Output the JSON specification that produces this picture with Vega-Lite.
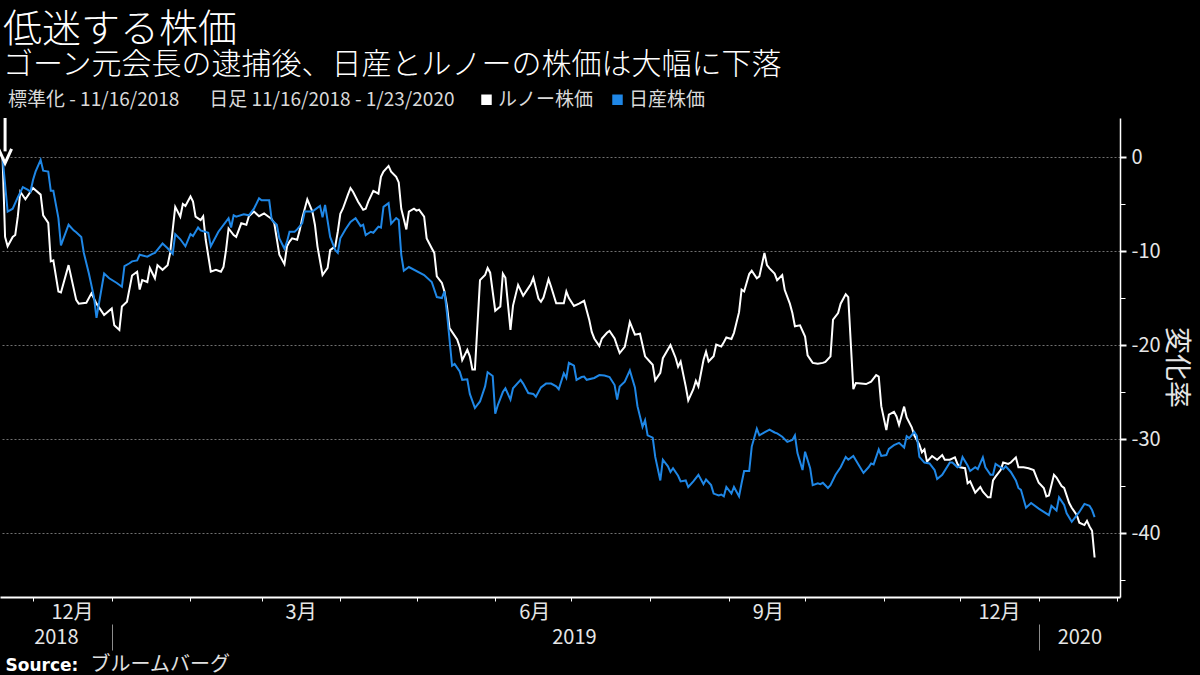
{
"$schema": "https://vega.github.io/schema/vega-lite/v6.json",
"width": 1120, "height": 479,
"autosize": {"type": "none"},
"padding": {"left": 0, "top": 118, "right": 80, "bottom": 78},
"background": "#000000",
"title": {
  "text": "低迷する株価",
  "subtitle": "ゴーン元会長の逮捕後、日産とルノーの株価は大幅に下落",
  "anchor": "start", "frame": "group", "dx": 3, "offset": 10,
  "font": "Noto Sans CJK JP", "fontSize": 39, "fontWeight": 300, "color": "#ffffff",
  "subtitleFont": "Noto Sans CJK JP", "subtitleFontSize": 30, "subtitleFontWeight": 300, "subtitleColor": "#ffffff", "subtitlePadding": 0
},
"datasets": {
"prices": [
{"d":"2018-11-19","s":"ルノー株価","v":0},{"d":"2018-11-20","s":"ルノー株価","v":-8.5},{"d":"2018-11-21","s":"ルノー株価","v":-9.5},{"d":"2018-11-23","s":"ルノー株価","v":-8.5},{"d":"2018-11-24","s":"ルノー株価","v":-8.3},{"d":"2018-11-25","s":"ルノー株価","v":-6.35},{"d":"2018-11-26","s":"ルノー株価","v":-3.7},{"d":"2018-11-28","s":"ルノー株価","v":-4.5},{"d":"2018-12-01","s":"ルノー株価","v":-3.3},{"d":"2018-12-04","s":"ルノー株価","v":-4.0},{"d":"2018-12-05","s":"ルノー株価","v":-6.2},{"d":"2018-12-07","s":"ルノー株価","v":-7.0},{"d":"2018-12-08","s":"ルノー株価","v":-11.1},{"d":"2018-12-09","s":"ルノー株価","v":-11.0},{"d":"2018-12-11","s":"ルノー株価","v":-14.3},{"d":"2018-12-12","s":"ルノー株価","v":-14.4},{"d":"2018-12-15","s":"ルノー株価","v":-11.5},{"d":"2018-12-18","s":"ルノー株価","v":-15.2},{"d":"2018-12-19","s":"ルノー株価","v":-15.6},{"d":"2018-12-22","s":"ルノー株価","v":-15.5},{"d":"2018-12-24","s":"ルノー株価","v":-14.5},{"d":"2018-12-26","s":"ルノー株価","v":-15.6},{"d":"2018-12-29","s":"ルノー株価","v":-16.8},
{"d":"2019-01-01","s":"ルノー株価","v":-16.1},{"d":"2019-01-02","s":"ルノー株価","v":-17.9},{"d":"2019-01-04","s":"ルノー株価","v":-18.4},{"d":"2019-01-05","s":"ルノー株価","v":-15.9},{"d":"2019-01-07","s":"ルノー株価","v":-15.4},{"d":"2019-01-09","s":"ルノー株価","v":-12.6},{"d":"2019-01-11","s":"ルノー株価","v":-12.2},{"d":"2019-01-12","s":"ルノー株価","v":-14.1},{"d":"2019-01-13","s":"ルノー株価","v":-13.1},{"d":"2019-01-15","s":"ルノー株価","v":-13.3},{"d":"2019-01-16","s":"ルノー株価","v":-11.8},{"d":"2019-01-18","s":"ルノー株価","v":-12.9},{"d":"2019-01-19","s":"ルノー株価","v":-11.5},{"d":"2019-01-21","s":"ルノー株価","v":-12.0},{"d":"2019-01-23","s":"ルノー株価","v":-11.5},{"d":"2019-01-24","s":"ルノー株価","v":-10.2},{"d":"2019-01-26","s":"ルノー株価","v":-5.3},{"d":"2019-01-28","s":"ルノー株価","v":-6.35},{"d":"2019-01-29","s":"ルノー株価","v":-5.0},{"d":"2019-01-30","s":"ルノー株価","v":-5.2},
{"d":"2019-02-01","s":"ルノー株価","v":-4.2},{"d":"2019-02-02","s":"ルノー株価","v":-4.75},{"d":"2019-02-03","s":"ルノー株価","v":-6.35},{"d":"2019-02-05","s":"ルノー株価","v":-6.7},{"d":"2019-02-06","s":"ルノー株価","v":-6.3},{"d":"2019-02-07","s":"ルノー株価","v":-8.8},{"d":"2019-02-09","s":"ルノー株価","v":-12.2},{"d":"2019-02-11","s":"ルノー株価","v":-12.0},{"d":"2019-02-13","s":"ルノー株価","v":-12.2},{"d":"2019-02-14","s":"ルノー株価","v":-11.7},{"d":"2019-02-15","s":"ルノー株価","v":-9.9},{"d":"2019-02-16","s":"ルノー株価","v":-7.6},{"d":"2019-02-18","s":"ルノー株価","v":-8.3},{"d":"2019-02-19","s":"ルノー株価","v":-8.5},{"d":"2019-02-21","s":"ルノー株価","v":-7.05},{"d":"2019-02-23","s":"ルノー株価","v":-7.2},{"d":"2019-02-24","s":"ルノー株価","v":-6.3},{"d":"2019-02-26","s":"ルノー株価","v":-5.8},{"d":"2019-02-28","s":"ルノー株価","v":-6.3},
{"d":"2019-03-02","s":"ルノー株価","v":-6.0},{"d":"2019-03-05","s":"ルノー株価","v":-6.6},{"d":"2019-03-06","s":"ルノー株価","v":-7.05},{"d":"2019-03-08","s":"ルノー株価","v":-10.4},{"d":"2019-03-10","s":"ルノー株価","v":-11.4},{"d":"2019-03-11","s":"ルノー株価","v":-9.5},{"d":"2019-03-12","s":"ルノー株価","v":-9.0},{"d":"2019-03-13","s":"ルノー株価","v":-8.65},{"d":"2019-03-15","s":"ルノー株価","v":-8.8},{"d":"2019-03-16","s":"ルノー株価","v":-7.8},{"d":"2019-03-17","s":"ルノー株価","v":-6.5},{"d":"2019-03-19","s":"ルノー株価","v":-4.5},{"d":"2019-03-21","s":"ルノー株価","v":-5.8},{"d":"2019-03-22","s":"ルノー株価","v":-7.2},{"d":"2019-03-23","s":"ルノー株価","v":-9.5},{"d":"2019-03-25","s":"ルノー株価","v":-12.55},{"d":"2019-03-27","s":"ルノー株価","v":-11.8},{"d":"2019-03-28","s":"ルノー株価","v":-9.9},{"d":"2019-03-30","s":"ルノー株価","v":-9.5},{"d":"2019-03-31","s":"ルノー株価","v":-7.95},
{"d":"2019-04-01","s":"ルノー株価","v":-6.05},{"d":"2019-04-02","s":"ルノー株価","v":-5.5},{"d":"2019-04-04","s":"ルノー株価","v":-4.0},{"d":"2019-04-05","s":"ルノー株価","v":-3.3},{"d":"2019-04-06","s":"ルノー株価","v":-3.7},{"d":"2019-04-08","s":"ルノー株価","v":-4.75},{"d":"2019-04-10","s":"ルノー株価","v":-5.6},{"d":"2019-04-11","s":"ルノー株価","v":-5.5},{"d":"2019-04-12","s":"ルノー株価","v":-4.75},{"d":"2019-04-14","s":"ルノー株価","v":-3.6},{"d":"2019-04-16","s":"ルノー株価","v":-3.9},{"d":"2019-04-17","s":"ルノー株価","v":-2.1},{"d":"2019-04-18","s":"ルノー株価","v":-1.55},{"d":"2019-04-20","s":"ルノー株価","v":-0.95},{"d":"2019-04-21","s":"ルノー株価","v":-1.55},{"d":"2019-04-23","s":"ルノー株価","v":-2.1},{"d":"2019-04-24","s":"ルノー株価","v":-2.7},{"d":"2019-04-25","s":"ルノー株価","v":-5.5},{"d":"2019-04-26","s":"ルノー株価","v":-6.6},{"d":"2019-04-27","s":"ルノー株価","v":-7.7},{"d":"2019-04-28","s":"ルノー株価","v":-5.8},{"d":"2019-04-30","s":"ルノー株価","v":-5.5},
{"d":"2019-05-01","s":"ルノー株価","v":-5.7},{"d":"2019-05-02","s":"ルノー株価","v":-5.6},{"d":"2019-05-04","s":"ルノー株価","v":-6.35},{"d":"2019-05-05","s":"ルノー株価","v":-8.65},{"d":"2019-05-07","s":"ルノー株価","v":-9.7},{"d":"2019-05-08","s":"ルノー株価","v":-10.2},{"d":"2019-05-09","s":"ルノー株価","v":-12.7},{"d":"2019-05-11","s":"ルノー株価","v":-13.4},{"d":"2019-05-12","s":"ルノー株価","v":-14.3},{"d":"2019-05-13","s":"ルノー株価","v":-15.9},{"d":"2019-05-14","s":"ルノー株価","v":-18.2},{"d":"2019-05-17","s":"ルノー株価","v":-19.4},{"d":"2019-05-18","s":"ルノー株価","v":-20.2},{"d":"2019-05-19","s":"ルノー株価","v":-21.6},{"d":"2019-05-21","s":"ルノー株価","v":-20.5},{"d":"2019-05-22","s":"ルノー株価","v":-21.2},{"d":"2019-05-23","s":"ルノー株価","v":-22.6},{"d":"2019-05-24","s":"ルノー株価","v":-22.6},{"d":"2019-05-26","s":"ルノー株価","v":-13.1},{"d":"2019-05-28","s":"ルノー株価","v":-12.55},{"d":"2019-05-29","s":"ルノー株価","v":-11.8},{"d":"2019-05-30","s":"ルノー株価","v":-12.3},
{"d":"2019-06-01","s":"ルノー株価","v":-16.35},{"d":"2019-06-03","s":"ルノー株価","v":-15.9},{"d":"2019-06-04","s":"ルノー株価","v":-12.4},{"d":"2019-06-05","s":"ルノー株価","v":-12.85},{"d":"2019-06-07","s":"ルノー株価","v":-18.4},{"d":"2019-06-08","s":"ルノー株価","v":-15.8},{"d":"2019-06-10","s":"ルノー株価","v":-13.6},{"d":"2019-06-12","s":"ルノー株価","v":-14.75},{"d":"2019-06-14","s":"ルノー株価","v":-13.95},{"d":"2019-06-15","s":"ルノー株価","v":-13.55},{"d":"2019-06-16","s":"ルノー株価","v":-12.85},{"d":"2019-06-18","s":"ルノー株価","v":-15.05},{"d":"2019-06-19","s":"ルノー株価","v":-15.4},{"d":"2019-06-20","s":"ルノー株価","v":-14.95},{"d":"2019-06-22","s":"ルノー株価","v":-13.0},{"d":"2019-06-23","s":"ルノー株価","v":-13.8},{"d":"2019-06-25","s":"ルノー株価","v":-15.55},{"d":"2019-06-28","s":"ルノー株価","v":-15.55},{"d":"2019-06-29","s":"ルノー株価","v":-14.3},{"d":"2019-06-30","s":"ルノー株価","v":-15.0},
{"d":"2019-07-02","s":"ルノー株価","v":-15.85},{"d":"2019-07-04","s":"ルノー株価","v":-15.6},{"d":"2019-07-06","s":"ルノー株価","v":-15.3},{"d":"2019-07-08","s":"ルノー株価","v":-17.3},{"d":"2019-07-09","s":"ルノー株価","v":-18.6},{"d":"2019-07-10","s":"ルノー株価","v":-19.3},{"d":"2019-07-12","s":"ルノー株価","v":-20.1},{"d":"2019-07-13","s":"ルノー株価","v":-19.3},{"d":"2019-07-15","s":"ルノー株価","v":-18.7},{"d":"2019-07-16","s":"ルノー株価","v":-18.5},{"d":"2019-07-18","s":"ルノー株価","v":-19.3},{"d":"2019-07-19","s":"ルノー株価","v":-20.1},{"d":"2019-07-20","s":"ルノー株価","v":-20.85},{"d":"2019-07-22","s":"ルノー株価","v":-20.2},{"d":"2019-07-23","s":"ルノー株価","v":-18.9},{"d":"2019-07-24","s":"ルノー株価","v":-17.55},{"d":"2019-07-26","s":"ルノー株価","v":-18.9},{"d":"2019-07-28","s":"ルノー株価","v":-18.8},{"d":"2019-07-29","s":"ルノー株価","v":-20.0},{"d":"2019-07-30","s":"ルノー株価","v":-21.2},
{"d":"2019-08-01","s":"ルノー株価","v":-21.8},{"d":"2019-08-02","s":"ルノー株価","v":-22.1},{"d":"2019-08-03","s":"ルノー株価","v":-23.75},{"d":"2019-08-05","s":"ルノー株価","v":-22.95},{"d":"2019-08-06","s":"ルノー株価","v":-21.4},{"d":"2019-08-09","s":"ルノー株価","v":-20.0},{"d":"2019-08-11","s":"ルノー株価","v":-21.35},{"d":"2019-08-12","s":"ルノー株価","v":-22.3},{"d":"2019-08-13","s":"ルノー株価","v":-21.75},{"d":"2019-08-15","s":"ルノー株価","v":-24.4},{"d":"2019-08-16","s":"ルノー株価","v":-25.9},{"d":"2019-08-18","s":"ルノー株価","v":-24.7},{"d":"2019-08-19","s":"ルノー株価","v":-23.8},{"d":"2019-08-20","s":"ルノー株価","v":-24.4},{"d":"2019-08-22","s":"ルノー株価","v":-21.6},{"d":"2019-08-23","s":"ルノー株価","v":-20.7},{"d":"2019-08-24","s":"ルノー株価","v":-21.75},{"d":"2019-08-26","s":"ルノー株価","v":-21.2},{"d":"2019-08-27","s":"ルノー株価","v":-19.95},{"d":"2019-08-29","s":"ルノー株価","v":-20.15},{"d":"2019-08-30","s":"ルノー株価","v":-19.7},{"d":"2019-08-31","s":"ルノー株価","v":-19.2},
{"d":"2019-09-02","s":"ルノー株価","v":-19.35},{"d":"2019-09-03","s":"ルノー株価","v":-18.7},{"d":"2019-09-05","s":"ルノー株価","v":-16.5},{"d":"2019-09-06","s":"ルノー株価","v":-14.1},{"d":"2019-09-07","s":"ルノー株価","v":-14.3},{"d":"2019-09-09","s":"ルノー株価","v":-12.45},{"d":"2019-09-10","s":"ルノー株価","v":-12.1},{"d":"2019-09-12","s":"ルノー株価","v":-12.9},{"d":"2019-09-13","s":"ルノー株価","v":-12.7},{"d":"2019-09-15","s":"ルノー株価","v":-10.2},{"d":"2019-09-16","s":"ルノー株価","v":-11.5},{"d":"2019-09-17","s":"ルノー株価","v":-11.85},{"d":"2019-09-19","s":"ルノー株価","v":-12.4},{"d":"2019-09-20","s":"ルノー株価","v":-13.1},{"d":"2019-09-22","s":"ルノー株価","v":-12.55},{"d":"2019-09-23","s":"ルノー株価","v":-14.15},{"d":"2019-09-25","s":"ルノー株価","v":-15.6},{"d":"2019-09-26","s":"ルノー株価","v":-16.6},{"d":"2019-09-27","s":"ルノー株価","v":-18.0},{"d":"2019-09-29","s":"ルノー株価","v":-17.9},
{"d":"2019-10-01","s":"ルノー株価","v":-19.1},{"d":"2019-10-02","s":"ルノー株価","v":-21.1},{"d":"2019-10-04","s":"ルノー株価","v":-21.9},{"d":"2019-10-06","s":"ルノー株価","v":-22.0},{"d":"2019-10-08","s":"ルノー株価","v":-21.9},{"d":"2019-10-09","s":"ルノー株価","v":-21.8},{"d":"2019-10-11","s":"ルノー株価","v":-21.2},{"d":"2019-10-12","s":"ルノー株価","v":-17.3},{"d":"2019-10-14","s":"ルノー株価","v":-16.6},{"d":"2019-10-15","s":"ルノー株価","v":-15.6},{"d":"2019-10-17","s":"ルノー株価","v":-14.6},{"d":"2019-10-18","s":"ルノー株価","v":-14.9},{"d":"2019-10-20","s":"ルノー株価","v":-24.7},{"d":"2019-10-21","s":"ルノー株価","v":-24.05},{"d":"2019-10-23","s":"ルノー株価","v":-24.1},{"d":"2019-10-25","s":"ルノー株価","v":-24.15},{"d":"2019-10-27","s":"ルノー株価","v":-23.9},{"d":"2019-10-29","s":"ルノー株価","v":-23.2},{"d":"2019-10-30","s":"ルノー株価","v":-23.35},{"d":"2019-10-31","s":"ルノー株価","v":-26.5},
{"d":"2019-11-02","s":"ルノー株価","v":-29.05},{"d":"2019-11-03","s":"ルノー株価","v":-27.4},{"d":"2019-11-05","s":"ルノー株価","v":-27.1},{"d":"2019-11-06","s":"ルノー株価","v":-27.6},{"d":"2019-11-07","s":"ルノー株価","v":-28.5},{"d":"2019-11-09","s":"ルノー株価","v":-26.55},{"d":"2019-11-10","s":"ルノー株価","v":-27.7},{"d":"2019-11-12","s":"ルノー株価","v":-28.75},{"d":"2019-11-13","s":"ルノー株価","v":-29.6},{"d":"2019-11-15","s":"ルノー株価","v":-30.6},{"d":"2019-11-16","s":"ルノー株価","v":-31.4},{"d":"2019-11-17","s":"ルノー株価","v":-31.1},{"d":"2019-11-18","s":"ルノー株価","v":-32.4},{"d":"2019-11-20","s":"ルノー株価","v":-31.8},{"d":"2019-11-22","s":"ルノー株価","v":-32.2},{"d":"2019-11-24","s":"ルノー株価","v":-31.7},{"d":"2019-11-25","s":"ルノー株価","v":-32.2},{"d":"2019-11-27","s":"ルノー株価","v":-32.2},{"d":"2019-11-29","s":"ルノー株価","v":-31.95},{"d":"2019-11-30","s":"ルノー株価","v":-32.65},
{"d":"2019-12-01","s":"ルノー株価","v":-33.0},{"d":"2019-12-03","s":"ルノー株価","v":-33.1},{"d":"2019-12-04","s":"ルノー株価","v":-34.7},{"d":"2019-12-05","s":"ルノー株価","v":-34.5},{"d":"2019-12-07","s":"ルノー株価","v":-35.7},{"d":"2019-12-09","s":"ルノー株価","v":-35.1},{"d":"2019-12-10","s":"ルノー株価","v":-35.6},{"d":"2019-12-12","s":"ルノー株価","v":-36.2},{"d":"2019-12-13","s":"ルノー株価","v":-36.2},{"d":"2019-12-14","s":"ルノー株価","v":-34.4},{"d":"2019-12-15","s":"ルノー株価","v":-34.0},{"d":"2019-12-17","s":"ルノー株価","v":-33.3},{"d":"2019-12-18","s":"ルノー株価","v":-32.5},{"d":"2019-12-20","s":"ルノー株価","v":-32.65},{"d":"2019-12-21","s":"ルノー株価","v":-32.5},{"d":"2019-12-23","s":"ルノー株価","v":-31.95},{"d":"2019-12-24","s":"ルノー株価","v":-33.0},{"d":"2019-12-26","s":"ルノー株価","v":-33.0},{"d":"2019-12-28","s":"ルノー株価","v":-33.1},{"d":"2019-12-30","s":"ルノー株価","v":-33.3},{"d":"2019-12-31","s":"ルノー株価","v":-34.0},
{"d":"2020-01-01","s":"ルノー株価","v":-34.65},{"d":"2020-01-03","s":"ルノー株価","v":-35.2},{"d":"2020-01-04","s":"ルノー株価","v":-36.1},{"d":"2020-01-05","s":"ルノー株価","v":-36.0},{"d":"2020-01-07","s":"ルノー株価","v":-33.8},{"d":"2020-01-08","s":"ルノー株価","v":-34.1},{"d":"2020-01-10","s":"ルノー株価","v":-35.0},{"d":"2020-01-11","s":"ルノー株価","v":-35.2},{"d":"2020-01-13","s":"ルノー株価","v":-36.8},{"d":"2020-01-14","s":"ルノー株価","v":-37.3},{"d":"2020-01-16","s":"ルノー株価","v":-38.1},{"d":"2020-01-17","s":"ルノー株価","v":-38.9},{"d":"2020-01-19","s":"ルノー株価","v":-39.15},{"d":"2020-01-20","s":"ルノー株価","v":-38.7},{"d":"2020-01-21","s":"ルノー株価","v":-39.3},{"d":"2020-01-22","s":"ルノー株価","v":-39.75},{"d":"2020-01-23","s":"ルノー株価","v":-42.6},
{"d":"2018-11-19","s":"日産株価","v":0},{"d":"2018-11-21","s":"日産株価","v":-5.8},{"d":"2018-11-23","s":"日産株価","v":-5.5},{"d":"2018-11-25","s":"日産株価","v":-4.3},{"d":"2018-11-27","s":"日産株価","v":-3.2},{"d":"2018-11-29","s":"日産株価","v":-3.5},{"d":"2018-11-30","s":"日産株価","v":-3.7},{"d":"2018-12-01","s":"日産株価","v":-2.45},{"d":"2018-12-02","s":"日産株価","v":-1.55},{"d":"2018-12-04","s":"日産株価","v":-0.3},{"d":"2018-12-05","s":"日産株価","v":-1.45},{"d":"2018-12-07","s":"日産株価","v":-1.55},{"d":"2018-12-08","s":"日産株価","v":-3.6},{"d":"2018-12-09","s":"日産株価","v":-3.6},{"d":"2018-12-11","s":"日産株価","v":-6.5},{"d":"2018-12-12","s":"日産株価","v":-9.4},{"d":"2018-12-15","s":"日産株価","v":-7.2},{"d":"2018-12-17","s":"日産株価","v":-7.8},{"d":"2018-12-18","s":"日産株価","v":-8.0},{"d":"2018-12-20","s":"日産株価","v":-8.5},{"d":"2018-12-21","s":"日産株価","v":-10.2},{"d":"2018-12-23","s":"日産株価","v":-12.4},{"d":"2018-12-25","s":"日産株価","v":-14.9},{"d":"2018-12-26","s":"日産株価","v":-17.1},{"d":"2018-12-29","s":"日産株価","v":-12.4},{"d":"2018-12-31","s":"日産株価","v":-12.9},
{"d":"2019-01-03","s":"日産株価","v":-13.4},{"d":"2019-01-05","s":"日産株価","v":-13.8},{"d":"2019-01-06","s":"日産株価","v":-11.6},{"d":"2019-01-08","s":"日産株価","v":-11.3},{"d":"2019-01-09","s":"日産株価","v":-11.1},{"d":"2019-01-11","s":"日産株価","v":-11.0},{"d":"2019-01-12","s":"日産株価","v":-10.4},{"d":"2019-01-15","s":"日産株価","v":-10.6},{"d":"2019-01-17","s":"日産株価","v":-10.3},{"d":"2019-01-18","s":"日産株価","v":-10.2},{"d":"2019-01-21","s":"日産株価","v":-9.2},{"d":"2019-01-23","s":"日産株価","v":-9.7},{"d":"2019-01-25","s":"日産株価","v":-10.3},{"d":"2019-01-26","s":"日産株価","v":-8.2},{"d":"2019-01-28","s":"日産株価","v":-8.75},{"d":"2019-01-30","s":"日産株価","v":-9.5},
{"d":"2019-02-01","s":"日産株価","v":-8.2},{"d":"2019-02-02","s":"日産株価","v":-8.4},{"d":"2019-02-04","s":"日産株価","v":-7.5},{"d":"2019-02-05","s":"日産株価","v":-7.8},{"d":"2019-02-08","s":"日産株価","v":-8.05},{"d":"2019-02-09","s":"日産株価","v":-9.5},{"d":"2019-02-12","s":"日産株価","v":-7.95},{"d":"2019-02-16","s":"日産株価","v":-6.5},{"d":"2019-02-17","s":"日産株価","v":-7.5},{"d":"2019-02-18","s":"日産株価","v":-6.2},{"d":"2019-02-19","s":"日産株価","v":-6.35},{"d":"2019-02-22","s":"日産株価","v":-6.1},{"d":"2019-02-24","s":"日産株価","v":-6.2},{"d":"2019-02-26","s":"日産株価","v":-5.5},{"d":"2019-02-28","s":"日産株価","v":-4.4},
{"d":"2019-03-01","s":"日産株価","v":-4.6},{"d":"2019-03-04","s":"日産株価","v":-4.6},{"d":"2019-03-05","s":"日産株価","v":-6.7},{"d":"2019-03-07","s":"日産株価","v":-7.2},{"d":"2019-03-08","s":"日産株価","v":-8.65},{"d":"2019-03-10","s":"日産株価","v":-9.75},{"d":"2019-03-11","s":"日産株価","v":-9.0},{"d":"2019-03-12","s":"日産株価","v":-7.95},{"d":"2019-03-14","s":"日産株価","v":-7.95},{"d":"2019-03-15","s":"日産株価","v":-7.7},{"d":"2019-03-17","s":"日産株価","v":-7.05},{"d":"2019-03-18","s":"日産株価","v":-5.8},{"d":"2019-03-21","s":"日産株価","v":-5.8},{"d":"2019-03-22","s":"日産株価","v":-5.6},{"d":"2019-03-24","s":"日産株価","v":-5.2},{"d":"2019-03-25","s":"日産株価","v":-6.4},{"d":"2019-03-26","s":"日産株価","v":-5.1},{"d":"2019-03-28","s":"日産株価","v":-8.5},{"d":"2019-03-30","s":"日産株価","v":-9.9},{"d":"2019-03-31","s":"日産株価","v":-10.2},
{"d":"2019-04-01","s":"日産株価","v":-8.65},{"d":"2019-04-03","s":"日産株価","v":-7.7},{"d":"2019-04-05","s":"日産株価","v":-6.9},{"d":"2019-04-07","s":"日産株価","v":-6.5},{"d":"2019-04-09","s":"日産株価","v":-7.35},{"d":"2019-04-10","s":"日産株価","v":-7.2},{"d":"2019-04-11","s":"日産株価","v":-8.3},{"d":"2019-04-13","s":"日産株価","v":-7.95},{"d":"2019-04-14","s":"日産株価","v":-8.05},{"d":"2019-04-16","s":"日産株価","v":-7.4},{"d":"2019-04-17","s":"日産株価","v":-7.5},{"d":"2019-04-18","s":"日産株価","v":-5.3},{"d":"2019-04-20","s":"日産株価","v":-4.9},{"d":"2019-04-21","s":"日産株価","v":-7.1},{"d":"2019-04-23","s":"日産株価","v":-6.5},{"d":"2019-04-24","s":"日産株価","v":-6.7},{"d":"2019-04-25","s":"日産株価","v":-10.4},{"d":"2019-04-26","s":"日産株価","v":-12.1},{"d":"2019-04-28","s":"日産株価","v":-11.7},
{"d":"2019-05-04","s":"日産株価","v":-12.55},{"d":"2019-05-07","s":"日産株価","v":-13.3},{"d":"2019-05-09","s":"日産株価","v":-14.9},{"d":"2019-05-11","s":"日産株価","v":-15.0},{"d":"2019-05-12","s":"日産株価","v":-14.3},{"d":"2019-05-13","s":"日産株価","v":-16.6},{"d":"2019-05-15","s":"日産株価","v":-22.2},{"d":"2019-05-16","s":"日産株価","v":-22.0},{"d":"2019-05-18","s":"日産株価","v":-22.8},{"d":"2019-05-19","s":"日産株価","v":-23.7},{"d":"2019-05-21","s":"日産株価","v":-23.65},{"d":"2019-05-22","s":"日産株価","v":-25.2},{"d":"2019-05-24","s":"日産株価","v":-26.7},{"d":"2019-05-26","s":"日産株価","v":-26.0},{"d":"2019-05-28","s":"日産株価","v":-24.4},{"d":"2019-05-29","s":"日産株価","v":-22.9},{"d":"2019-05-31","s":"日産株価","v":-23.3},
{"d":"2019-06-01","s":"日産株価","v":-27.3},{"d":"2019-06-02","s":"日産株価","v":-26.4},{"d":"2019-06-04","s":"日産株価","v":-25.0},{"d":"2019-06-05","s":"日産株価","v":-24.6},{"d":"2019-06-07","s":"日産株価","v":-25.8},{"d":"2019-06-08","s":"日産株価","v":-24.6},{"d":"2019-06-11","s":"日産株価","v":-23.7},{"d":"2019-06-12","s":"日産株価","v":-24.1},{"d":"2019-06-14","s":"日産株価","v":-25.1},{"d":"2019-06-16","s":"日産株価","v":-25.2},{"d":"2019-06-17","s":"日産株価","v":-25.5},{"d":"2019-06-19","s":"日産株価","v":-24.5},{"d":"2019-06-21","s":"日産株価","v":-24.1},{"d":"2019-06-23","s":"日産株価","v":-24.1},{"d":"2019-06-25","s":"日産株価","v":-24.4},{"d":"2019-06-26","s":"日産株価","v":-24.7},{"d":"2019-06-28","s":"日産株価","v":-23.0},{"d":"2019-06-29","s":"日産株価","v":-23.5},{"d":"2019-06-30","s":"日産株価","v":-21.9},
{"d":"2019-07-02","s":"日産株価","v":-22.2},{"d":"2019-07-03","s":"日産株価","v":-23.7},{"d":"2019-07-05","s":"日産株価","v":-23.4},{"d":"2019-07-06","s":"日産株価","v":-23.35},{"d":"2019-07-07","s":"日産株価","v":-23.7},{"d":"2019-07-10","s":"日産株価","v":-23.5},{"d":"2019-07-12","s":"日産株価","v":-23.2},{"d":"2019-07-14","s":"日産株価","v":-23.25},{"d":"2019-07-16","s":"日産株価","v":-23.4},{"d":"2019-07-18","s":"日産株価","v":-24.25},{"d":"2019-07-19","s":"日産株価","v":-25.8},{"d":"2019-07-20","s":"日産株価","v":-24.4},{"d":"2019-07-22","s":"日産株価","v":-23.9},{"d":"2019-07-24","s":"日産株価","v":-22.7},{"d":"2019-07-26","s":"日産株価","v":-24.5},{"d":"2019-07-27","s":"日産株価","v":-26.5},{"d":"2019-07-29","s":"日産株価","v":-28.7},{"d":"2019-07-30","s":"日産株価","v":-28.0},{"d":"2019-07-31","s":"日産株価","v":-29.6},
{"d":"2019-08-02","s":"日産株価","v":-29.85},{"d":"2019-08-03","s":"日産株価","v":-31.9},{"d":"2019-08-05","s":"日産株価","v":-34.4},{"d":"2019-08-06","s":"日産株価","v":-32.2},{"d":"2019-08-08","s":"日産株価","v":-32.9},{"d":"2019-08-09","s":"日産株価","v":-33.5},{"d":"2019-08-10","s":"日産株価","v":-33.1},{"d":"2019-08-12","s":"日産株価","v":-33.9},{"d":"2019-08-13","s":"日産株価","v":-34.5},{"d":"2019-08-15","s":"日産株価","v":-34.4},{"d":"2019-08-16","s":"日産株価","v":-35.1},{"d":"2019-08-18","s":"日産株価","v":-34.5},{"d":"2019-08-20","s":"日産株価","v":-33.8},{"d":"2019-08-22","s":"日産株価","v":-34.8},{"d":"2019-08-23","s":"日産株価","v":-34.3},{"d":"2019-08-25","s":"日産株価","v":-34.9},{"d":"2019-08-26","s":"日産株価","v":-35.8},{"d":"2019-08-28","s":"日産株価","v":-36.0},{"d":"2019-08-29","s":"日産株価","v":-35.9},{"d":"2019-08-30","s":"日産株価","v":-36.1},{"d":"2019-08-31","s":"日産株価","v":-35.1},
{"d":"2019-09-02","s":"日産株価","v":-35.8},{"d":"2019-09-03","s":"日産株価","v":-35.1},{"d":"2019-09-05","s":"日産株価","v":-36.1},{"d":"2019-09-06","s":"日産株価","v":-34.7},{"d":"2019-09-07","s":"日産株価","v":-33.4},{"d":"2019-09-09","s":"日産株価","v":-33.4},{"d":"2019-09-10","s":"日産株価","v":-30.8},{"d":"2019-09-12","s":"日産株価","v":-28.9},{"d":"2019-09-13","s":"日産株価","v":-29.6},{"d":"2019-09-15","s":"日産株価","v":-29.3},{"d":"2019-09-17","s":"日産株価","v":-29.0},{"d":"2019-09-19","s":"日産株価","v":-29.3},{"d":"2019-09-20","s":"日産株価","v":-29.4},{"d":"2019-09-22","s":"日産株価","v":-29.75},{"d":"2019-09-24","s":"日産株価","v":-30.3},{"d":"2019-09-26","s":"日産株価","v":-30.1},{"d":"2019-09-27","s":"日産株価","v":-29.6},{"d":"2019-09-28","s":"日産株価","v":-31.5},{"d":"2019-09-30","s":"日産株価","v":-33.3},
{"d":"2019-10-01","s":"日産株価","v":-31.35},{"d":"2019-10-03","s":"日産株価","v":-33.1},{"d":"2019-10-04","s":"日産株価","v":-34.9},{"d":"2019-10-06","s":"日産株価","v":-34.7},{"d":"2019-10-07","s":"日産株価","v":-34.8},{"d":"2019-10-08","s":"日産株価","v":-34.65},{"d":"2019-10-10","s":"日産株価","v":-35.2},{"d":"2019-10-11","s":"日産株価","v":-34.9},{"d":"2019-10-13","s":"日産株価","v":-33.8},{"d":"2019-10-15","s":"日産株価","v":-33.0},{"d":"2019-10-17","s":"日産株価","v":-31.9},{"d":"2019-10-18","s":"日産株価","v":-32.2},{"d":"2019-10-20","s":"日産株価","v":-31.8},{"d":"2019-10-22","s":"日産株価","v":-32.7},{"d":"2019-10-24","s":"日産株価","v":-33.6},{"d":"2019-10-26","s":"日産株価","v":-33.0},{"d":"2019-10-27","s":"日産株価","v":-32.6},{"d":"2019-10-28","s":"日産株価","v":-32.7},{"d":"2019-10-30","s":"日産株価","v":-31.1},{"d":"2019-10-31","s":"日産株価","v":-31.8},
{"d":"2019-11-02","s":"日産株価","v":-31.7},{"d":"2019-11-03","s":"日産株価","v":-31.05},{"d":"2019-11-05","s":"日産株価","v":-30.65},{"d":"2019-11-07","s":"日産株価","v":-30.4},{"d":"2019-11-09","s":"日産株価","v":-30.9},{"d":"2019-11-10","s":"日産株価","v":-29.7},{"d":"2019-11-11","s":"日産株価","v":-29.9},{"d":"2019-11-13","s":"日産株価","v":-29.25},{"d":"2019-11-14","s":"日産株価","v":-29.65},{"d":"2019-11-15","s":"日産株価","v":-31.9},{"d":"2019-11-17","s":"日産株価","v":-32.5},{"d":"2019-11-19","s":"日産株価","v":-32.6},{"d":"2019-11-21","s":"日産株価","v":-33.3},{"d":"2019-11-22","s":"日産株価","v":-34.25},{"d":"2019-11-24","s":"日産株価","v":-33.8},{"d":"2019-11-27","s":"日産株価","v":-32.5},{"d":"2019-11-28","s":"日産株価","v":-32.5},{"d":"2019-11-30","s":"日産株価","v":-33.0},
{"d":"2019-12-01","s":"日産株価","v":-32.9},{"d":"2019-12-02","s":"日産株価","v":-31.9},{"d":"2019-12-04","s":"日産株価","v":-32.8},{"d":"2019-12-05","s":"日産株価","v":-33.4},{"d":"2019-12-07","s":"日産株価","v":-33.0},{"d":"2019-12-08","s":"日産株価","v":-33.2},{"d":"2019-12-10","s":"日産株価","v":-31.95},{"d":"2019-12-11","s":"日産株価","v":-33.0},{"d":"2019-12-13","s":"日産株価","v":-33.8},{"d":"2019-12-14","s":"日産株価","v":-33.8},{"d":"2019-12-15","s":"日産株価","v":-32.65},{"d":"2019-12-17","s":"日産株価","v":-33.0},{"d":"2019-12-18","s":"日産株価","v":-33.2},{"d":"2019-12-19","s":"日産株価","v":-32.9},{"d":"2019-12-21","s":"日産株価","v":-33.5},{"d":"2019-12-23","s":"日産株価","v":-34.4},{"d":"2019-12-24","s":"日産株価","v":-35.2},{"d":"2019-12-25","s":"日産株価","v":-35.4},{"d":"2019-12-27","s":"日産株価","v":-37.3},{"d":"2019-12-29","s":"日産株価","v":-36.8},
{"d":"2020-01-01","s":"日産株価","v":-37.4},{"d":"2020-01-05","s":"日産株価","v":-38.1},{"d":"2020-01-06","s":"日産株価","v":-37.1},{"d":"2020-01-08","s":"日産株価","v":-37.6},{"d":"2020-01-09","s":"日産株価","v":-36.2},{"d":"2020-01-11","s":"日産株価","v":-37.0},{"d":"2020-01-12","s":"日産株価","v":-37.9},{"d":"2020-01-14","s":"日産株価","v":-38.8},{"d":"2020-01-16","s":"日産株価","v":-38.1},{"d":"2020-01-17","s":"日産株価","v":-37.75},{"d":"2020-01-19","s":"日産株価","v":-36.9},{"d":"2020-01-21","s":"日産株価","v":-37.1},{"d":"2020-01-22","s":"日産株価","v":-37.55},{"d":"2020-01-23","s":"日産株価","v":-38.3}
],
"arrow": [{"d":"2018-11-20","v":4.15,"v2":0.6}],
"head": [{"d":"2018-11-20","v":0.1}]
},
"layer": [
{
 "data": {"name": "prices"},
 "mark": {"type": "line", "strokeWidth": 2, "clip": true},
 "encoding": {
  "x": {"field": "d", "type": "temporal",
   "scale": {"type": "utc", "domain": [{"year": 2018, "month": 11, "date": 18, "utc": true}, {"year": 2020, "month": 2, "date": 2, "utc": true}]},
   "axis": {
    "orient": "bottom",
    "values": [
     {"year": 2018, "month": 12, "date": 1, "utc": true},
     {"year": 2019, "month": 1, "date": 1, "utc": true},
     {"year": 2019, "month": 2, "date": 1, "utc": true},
     {"year": 2019, "month": 3, "date": 1, "utc": true},
     {"year": 2019, "month": 4, "date": 1, "utc": true},
     {"year": 2019, "month": 5, "date": 1, "utc": true},
     {"year": 2019, "month": 6, "date": 1, "utc": true},
     {"year": 2019, "month": 7, "date": 1, "utc": true},
     {"year": 2019, "month": 8, "date": 1, "utc": true},
     {"year": 2019, "month": 9, "date": 1, "utc": true},
     {"year": 2019, "month": 10, "date": 1, "utc": true},
     {"year": 2019, "month": 11, "date": 1, "utc": true},
     {"year": 2019, "month": 12, "date": 1, "utc": true},
     {"year": 2020, "month": 1, "date": 1, "utc": true},
     {"year": 2020, "month": 2, "date": 1, "utc": true}
    ],
    "labelExpr": "indexof([2,5,8,11], utcmonth(datum.value)) >= 0 ? (utcmonth(datum.value) + 1) + '月' : ''",
    "labelOffset": 39, "labelFontSize": 20, "labelColor": "#e6e6e6", "labelFont": "Noto Sans CJK JP",
    "labelPadding": 1, "labelOverlap": false, "labelFlush": false, "labelBound": false,
    "ticks": true, "tickSize": 4, "tickColor": "#ffffff", "tickWidth": 1,
    "domain": true, "domainColor": "#ffffff", "domainWidth": 2,
    "grid": false, "title": null
   }
  },
  "y": {"field": "v", "type": "quantitative",
   "scale": {"domain": [-46.8, 4.15], "nice": false, "zero": false},
   "axis": {
    "orient": "right", "values": [-40, -30, -20, -10, 0],
    "labelExpr": "'' + datum.value",
    "grid": true, "gridColor": "#707070", "gridDash": [2, 2], "gridWidth": 1,
    "domain": true, "domainColor": "#ffffff", "domainWidth": 1.5,
    "ticks": true, "tickColor": "#ffffff", "tickSize": 6, "tickWidth": 2,
    "labelFontSize": 20, "labelColor": "#e6e6e6", "labelPadding": 5, "labelFont": "Noto Sans CJK JP",
    "title": "変化率", "titleFontSize": 27, "titleFontWeight": "normal", "titleColor": "#e6e6e6",
    "titlePadding": 1, "titleY": 249, "titleFont": "Noto Sans CJK JP"
   }
  },
  "color": {"field": "s", "type": "nominal",
   "scale": {"domain": ["ルノー株価", "日産株価"], "range": ["#ffffff", "#1f87e6"]},
   "legend": {
    "orient": "none", "legendX": 8, "legendY": -28, "direction": "horizontal",
    "title": "標準化 - 11/16/2018\u00a0\u00a0\u00a0\u00a0\u00a0\u00a0\u00a0日足 11/16/2018 - 1/23/2020",
    "titleOrient": "left", "titleFontSize": 19, "titleFontWeight": "normal", "titleColor": "#d9d9d9",
    "titleFont": "Noto Sans CJK JP", "titleLimit": 800, "titlePadding": 22,
    "labelFontSize": 19, "labelColor": "#d9d9d9", "labelFont": "Noto Sans CJK JP", "labelOffset": 2,
    "symbolType": "square", "symbolSize": 110, "symbolStrokeWidth": 0, "columnPadding": 14,
    "encode": {"symbols": {"update": {"fill": {"scale": "color", "field": "value"}, "opacity": {"value": 1}}}}
   }
  }
 }
},
{
 "data": {"name": "arrow"},
 "mark": {"type": "rule", "color": "#ffffff", "strokeWidth": 3},
 "encoding": {
  "x": {"field": "d", "type": "temporal",
   "axis": {
    "orient": "bottom",
    "values": [
     {"year": 2018, "month": 12, "date": 10, "utc": true},
     {"year": 2019, "month": 7, "date": 2, "utc": true},
     {"year": 2020, "month": 1, "date": 17, "utc": true}
    ],
    "labelExpr": "utcFormat(datum.value, '%Y')",
    "ticks": false, "domain": false, "grid": false, "offset": 28, "labelPadding": 2,
    "labelFontSize": 20, "labelColor": "#e6e6e6", "labelFont": "Noto Sans CJK JP",
    "labelOverlap": false, "labelFlush": false, "labelBound": false,
    "title": "Source:", "titleX": 5, "titleY": 45, "titleAlign": "left", "titleAnchor": "start",
    "titleBaseline": "alphabetic", "titleFontSize": 17, "titleFontWeight": "bold", "titleColor": "#ffffff",
    "titleFont": "DejaVu Sans", "titleAngle": 0
   }
  },
  "y": {"field": "v", "type": "quantitative",
   "axis": {"orient": "right", "values": [-45, -35, -25, -15, -5], "grid": false, "domain": false,
    "labels": false, "ticks": true, "tickSize": 5, "tickColor": "#ffffff", "tickWidth": 1, "title": null}
  },
  "y2": {"field": "v2"}
 }
},
{
 "data": {"name": "head"},
 "mark": {"type": "point", "shape": "M -1 -1.1 L 0 1.1 L 1 -1.1", "filled": false, "stroke": "#ffffff", "strokeWidth": 3, "size": 169, "opacity": 1},
 "encoding": {
  "x": {"field": "d", "type": "temporal",
   "axis": {
    "orient": "bottom",
    "values": [
     {"year": 2019, "month": 1, "date": 1, "utc": true},
     {"year": 2020, "month": 1, "date": 1, "utc": true}
    ],
    "ticks": true, "tickSize": 26, "tickColor": "#8c8c8c", "tickWidth": 1,
    "labels": false, "domain": false, "grid": false, "offset": 27,
    "title": "ブルームバーグ", "titleX": 90, "titleY": 46, "titleAlign": "left", "titleAnchor": "start",
    "titleBaseline": "alphabetic", "titleFontSize": 20, "titleFontWeight": "normal", "titleColor": "#e0e0e0",
    "titleFont": "Noto Sans CJK JP", "titleAngle": 0
   }
  },
  "y": {"field": "v", "type": "quantitative", "axis": null}
 }
}
],
"resolve": {"axis": {"x": "independent", "y": "independent"}},
"config": {"view": {"stroke": null}, "font": "Noto Sans CJK JP"}
}
